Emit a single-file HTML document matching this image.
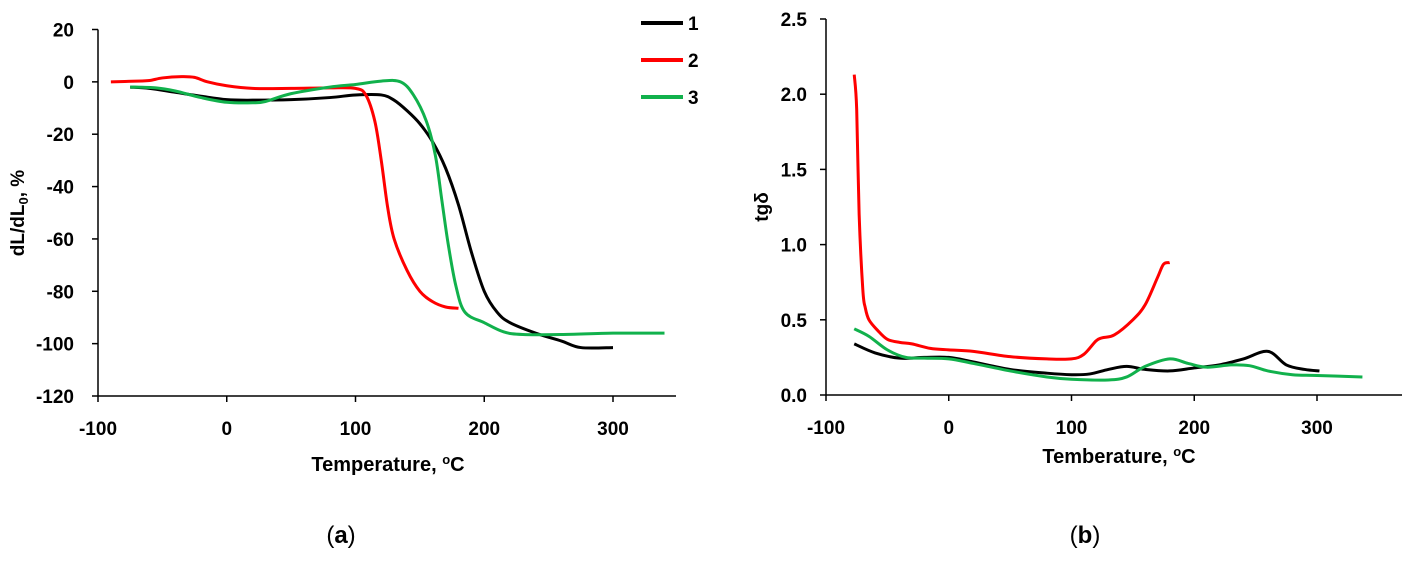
<!DOCTYPE html>
<html><head><meta charset="utf-8"><style>
body{margin:0;background:#fff;width:1411px;height:562px;overflow:hidden}
svg{display:block}
text{font-family:"Liberation Sans",sans-serif;fill:#000}
.tk{font-size:19px;font-weight:bold}
</style></head><body>
<svg id="c" width="1411" height="562"></svg>
<script>
// Panel (a) data
const aSeries1X=[-75,-60,-40,-20,0,20,50,80,100,120,130,140,150,160,170,180,190,200,210,220,240,260,275,300];
const aSeries1Y=[-2,-2.5,-4,-5.5,-6.8,-7,-6.8,-6,-5,-5,-7,-11,-16,-23,-33,-47,-65,-80,-88,-92,-96,-99,-101.5,-101.5];
const aSeries2X=[-90,-70,-60,-50,-35,-25,-15,0,20,50,80,100,108,115,120,125,130,140,150,160,170,180];
const aSeries2Y=[0,0.3,0.5,1.5,2,1.7,0,-1.5,-2.5,-2.5,-2.3,-2.5,-5,-15,-30,-48,-60,-72,-80,-84,-86,-86.5];
const aSeries3X=[-75,-55,-40,-20,0,20,30,50,80,100,120,135,145,155,162,167,172,178,185,200,215,230,260,300,340];
const aSeries3Y=[-2,-2.3,-3.5,-6,-7.8,-8,-7.5,-4.5,-2,-1,0.3,0,-5,-15,-28,-45,-62,-78,-88,-92,-95.5,-96.5,-96.5,-96,-96];
const aXTicks=[-100,0,100,200,300];
const aYTicks=[20,0,-20,-40,-60,-80,-100,-120];
// Panel (b) data
const bSeries1X=[-77,-60,-40,-20,0,20,50,80,100,115,130,145,160,180,200,220,240,260,275,290,302];
const bSeries1Y=[0.34,0.28,0.245,0.25,0.25,0.22,0.17,0.145,0.135,0.14,0.17,0.19,0.17,0.16,0.18,0.2,0.24,0.29,0.2,0.17,0.16];
const bSeries2X=[-77,-75,-73,-70,-68,-65,-58,-50,-40,-30,-15,0,20,50,80,100,110,120,125,135,150,160,170,175,180];
const bSeries2Y=[2.13,1.9,1.2,0.7,0.58,0.5,0.43,0.37,0.35,0.34,0.31,0.3,0.29,0.255,0.24,0.24,0.27,0.36,0.38,0.4,0.5,0.6,0.78,0.87,0.88];
const bSeries3X=[-77,-65,-50,-35,-20,0,20,50,80,100,130,145,160,180,195,210,230,245,260,280,300,337];
const bSeries3Y=[0.44,0.39,0.3,0.25,0.245,0.24,0.21,0.16,0.12,0.105,0.1,0.12,0.19,0.24,0.21,0.185,0.2,0.195,0.16,0.135,0.13,0.12];
const bXTicks=[-100,0,100,200,300];
const bYTicks=[0,0.5,1.0,1.5,2.0,2.5];

const NS="http://www.w3.org/2000/svg";
const svg=document.getElementById('c');
function el(t,a,p){const e=document.createElementNS(NS,t);for(const k in a)e.setAttribute(k,a[k]);(p||svg).appendChild(e);return e;}
function smooth(pts){let d="M"+pts[0][0]+","+pts[0][1];for(let i=0;i<pts.length-1;i++){const p0=pts[Math.max(0,i-1)],p1=pts[i],p2=pts[i+1],p3=pts[Math.min(pts.length-1,i+2)];
const c1=[p1[0]+(p2[0]-p0[0])/6,p1[1]+(p2[1]-p0[1])/6],c2=[p2[0]-(p3[0]-p1[0])/6,p2[1]-(p3[1]-p1[1])/6];
d+=` C${c1[0]},${c1[1]} ${c2[0]},${c2[1]} ${p2[0]},${p2[1]}`;}return d;}

function panel(cfg){
 const g=el('g',{});
 
 
 const sx=v=>cfg.x0+(v-cfg.xmin)/(cfg.xmax-cfg.xmin)*(cfg.x1-cfg.x0);
 const sy=v=>cfg.y0+(v-cfg.ymin)/(cfg.ymax-cfg.ymin)*(cfg.y1-cfg.y0);
 const ax=el('line',{x1:cfg.x0,y1:cfg.y0,x2:cfg.xend,y2:cfg.y0,stroke:'#000','stroke-width':1.5},g);
 
 const ay=el('line',{x1:cfg.x0,y1:cfg.y0,x2:cfg.x0,y2:cfg.y1,stroke:'#000','stroke-width':1.5},g);
 
 cfg.xt.forEach(v=>{const x=sx(v);el('line',{x1:x,y1:cfg.y0,x2:x,y2:cfg.y0+6,stroke:'#000','stroke-width':1.5},g);
  const t=el('text',{x:x,y:cfg.y0+39,'text-anchor':'middle',class:'tk'},g);t.textContent=v;
  });
 cfg.yt.forEach(v=>{const y=sy(v);el('line',{x1:cfg.x0-6,y1:y,x2:cfg.x0,y2:y,stroke:'#000','stroke-width':1.5},g);
  const t=el('text',{x:cfg.x0-cfg.lg,y:y+7,'text-anchor':'end',class:'tk'},g);t.textContent=cfg.fmt(v);
  });
 cfg.series.forEach((s,i)=>{const pts=s.x.map((v,j)=>[sx(v),sy(s.y[j])]);
  const p=el('path',{d:smooth(pts),fill:'none',stroke:s.c,'stroke-width':3,'stroke-linejoin':'round'},g);
  });
}
panel({name:'panel-a',x0:98,x1:613,xend:676,xmin:-100,xmax:300,y0:396,y1:29.5,ymin:-120,ymax:20,xt:aXTicks,yt:aYTicks,fmt:v=>v,lg:24,
 series:[{x:aSeries1X,y:aSeries1Y,c:'#000'},{x:aSeries2X,y:aSeries2Y,c:'#ff0000'},{x:aSeries3X,y:aSeries3Y,c:'#11b14c'}]});
panel({name:'panel-b',x0:826,x1:1317,xend:1402,xmin:-100,xmax:300,y0:395,y1:19,ymin:0,ymax:2.5,xt:bXTicks,yt:bYTicks,fmt:v=>v.toFixed(1),lg:19,
 series:[{x:bSeries1X,y:bSeries1Y,c:'#000'},{x:bSeries2X,y:bSeries2Y,c:'#ff0000'},{x:bSeries3X,y:bSeries3Y,c:'#11b14c'}]});
</script>
<svg style="position:absolute;left:0;top:0" width="1411" height="562">
 <g>
  <line x1="641" y1="23" x2="683" y2="23" stroke="#000" stroke-width="4"/><text x="688" y="30" class="tk">1</text>
  <line x1="641" y1="60" x2="683" y2="60" stroke="#ff0000" stroke-width="4"/><text x="688" y="67" class="tk">2</text>
  <line x1="641" y1="97" x2="683" y2="97" stroke="#11b14c" stroke-width="4"/><text x="688" y="104" class="tk">3</text>
 </g>
 <text transform="translate(24,213) rotate(-90)" text-anchor="middle" font-size="19" font-weight="bold">dL/dL<tspan font-size="13" dy="4">0</tspan><tspan dy="-4">, %</tspan></text>
 <text x="388" y="471" text-anchor="middle" font-size="20" font-weight="bold">Temperature, <tspan font-size="13" dy="-7">o</tspan><tspan dy="7">C</tspan></text>
 <text transform="translate(768,207) rotate(-90)" text-anchor="middle" font-size="19" font-weight="bold">tgδ</text>
 <text x="1119" y="463" text-anchor="middle" font-size="20" font-weight="bold">Temberature, <tspan font-size="13" dy="-7">o</tspan><tspan dy="7">C</tspan></text>
 <text x="341" y="543" text-anchor="middle" font-family="Liberation Serif" font-size="24">(<tspan font-weight="bold">a</tspan>)</text>
 <text x="1085" y="543" text-anchor="middle" font-family="Liberation Serif" font-size="24">(<tspan font-weight="bold">b</tspan>)</text>
</svg>
</body></html>
